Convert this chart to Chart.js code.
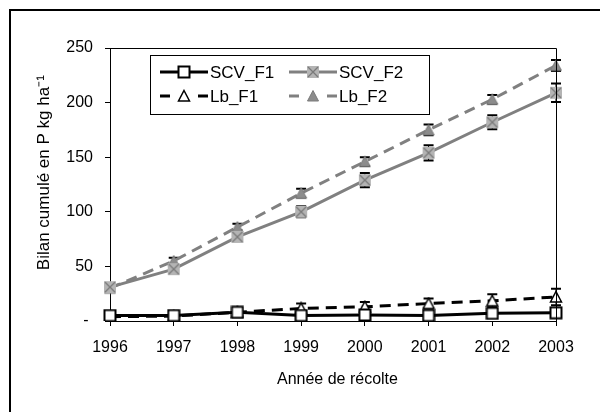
<!DOCTYPE html>
<html>
<head>
<meta charset="utf-8">
<style>
  html, body { margin: 0; padding: 0; background: #fff; overflow: hidden; }
  #wrap { position: relative; width: 600px; height: 412px; }
  #frame { position: absolute; left: 9px; top: 9px; width: 640px; height: 440px; border-left: 2px solid #000; border-top: 2px solid #000; }
  #chart { position: absolute; left: 0; top: 0; }
</style>
</head>
<body>
<div id="wrap">
  <div id="frame"></div>
  <canvas id="chart" width="600" height="412"></canvas>
</div>

<script src="https://cdn.jsdelivr.net/npm/chart.js"></script>

<script>
    const years = ['1996', '1997', '1998', '1999', '2000', '2001', '2002', '2003'];

    const scvF1 = [5, 5, 8, 5, 5.5, 5, 7, 7.5];
    const scvF2 = [31, 47.5, 77, 100, 129, 154, 182, 209];
    const lbF1 = [4, 4.5, 8, 11.5, 13, 16, 18.5, 22];
    const lbF2 = [30, 55, 86, 117, 146, 175, 203, 234];

    const scvF1Err = [1, 1, 1, 1, 1, 1, 1, 1];
    const scvF2Err = [2, 3, 3, 5, 6.5, 7, 6.5, 8.5];
    const lbF1Err = [1, 1, 2, 4.5, 4.5, 4.5, 6, 7.5];
    const lbF2Err = [2, 3, 3, 4, 4, 5, 4, 5];

    const yTicks = [0, 50, 100, 150, 200, 250];

    const FONT = 'Liberation Sans, Arial, sans-serif';

    // marker images
    function makeMarker(kind) {
        const c = document.createElement('canvas');
        c.width = 14;
        c.height = 14;
        const g = c.getContext('2d');
        if (kind === 'sqWhite') {
            g.fillStyle = '#fff';
            g.strokeStyle = '#000';
            g.lineWidth = 2;
            g.fillRect(1.5, 1.5, 11, 11);
            g.strokeRect(1.5, 1.5, 11, 11);
        } else if (kind === 'sqGrayX') {
            g.fillStyle = '#b4b4b4';
            g.fillRect(1, 1, 12, 12);
            g.strokeStyle = '#7a7a7a';
            g.lineWidth = 1.3;
            g.beginPath();
            g.moveTo(2, 2); g.lineTo(12, 12);
            g.moveTo(12, 2); g.lineTo(2, 12);
            g.stroke();
        } else if (kind === 'triWhite') {
            g.fillStyle = '#fff';
            g.strokeStyle = '#000';
            g.lineWidth = 1.5;
            g.beginPath();
            g.moveTo(7, 1.5); g.lineTo(12.5, 12); g.lineTo(1.5, 12); g.closePath();
            g.fill(); g.stroke();
        } else {
            g.fillStyle = '#8c8c8c';
            g.strokeStyle = '#7a7a7a';
            g.lineWidth = 1;
            g.beginPath();
            g.moveTo(7, 1.5); g.lineTo(12.5, 12); g.lineTo(1.5, 12); g.closePath();
            g.fill(); g.stroke();
        }
        return c;
    }

    const series = [
        { label: 'SCV_F1', data: scvF1, err: scvF1Err, color: '#000', dash: [], marker: makeMarker('sqWhite') },
        { label: 'Lb_F1', data: lbF1, err: lbF1Err, color: '#000', dash: [11, 7], marker: makeMarker('triWhite') },
        { label: 'SCV_F2', data: scvF2, err: scvF2Err, color: '#808080', dash: [], marker: makeMarker('sqGrayX') },
        { label: 'Lb_F2', data: lbF2, err: lbF2Err, color: '#808080', dash: [11, 7], marker: makeMarker('triGray') }
    ];

    // error bars under the lines
    const errorBars = {
        id: 'errorBars',
        beforeDatasetsDraw(chart) {
            const { ctx, scales: { x, y } } = chart;
            ctx.save();
            ctx.strokeStyle = '#000';
            chart.data.datasets.forEach(ds => {
                ds.data.forEach((v, i) => {
                    const e = ds.err[i];
                    const px = x.getPixelForValue(i);
                    const top = y.getPixelForValue(v + e);
                    const bot = y.getPixelForValue(Math.max(v - e, 0));
                    ctx.lineWidth = 1;
                    ctx.beginPath();
                    ctx.moveTo(px, top);
                    ctx.lineTo(px, bot);
                    ctx.stroke();
                    ctx.lineWidth = 2;
                    ctx.beginPath();
                    ctx.moveTo(px - 5, top);
                    ctx.lineTo(px + 5, top);
                    ctx.moveTo(px - 5, bot);
                    ctx.lineTo(px + 5, bot);
                    ctx.stroke();
                });
            });
            ctx.restore();
        }
    };

    // plot box + legend box
    const boxAndLegend = {
        id: 'boxAndLegend',
        afterDraw(chart) {
            const { ctx, chartArea: a } = chart;
            ctx.save();
            ctx.strokeStyle = '#000';
            ctx.lineWidth = 1;
            ctx.beginPath();
            ctx.moveTo(a.left, Math.round(a.top) + 0.5);
            ctx.lineTo(Math.round(a.right) + 0.5, Math.round(a.top) + 0.5);
            ctx.lineTo(Math.round(a.right) + 0.5, a.bottom);
            ctx.stroke();

            ctx.fillStyle = '#fff';
            ctx.fillRect(150, 55, 279, 59);
            ctx.strokeRect(150.5, 55.5, 279, 59);

            const slots = [
                { x: 160, y: 72 }, { x: 160, y: 96 },
                { x: 289, y: 72 }, { x: 289, y: 96 }
            ];
            chart.data.datasets.forEach((ds, i) => {
                const s = slots[i];
                ctx.strokeStyle = ds.borderColor;
                ctx.lineWidth = ds.borderWidth;
                ctx.setLineDash(ds.borderDash.length ? [10, 28] : []);
                ctx.beginPath();
                ctx.moveTo(s.x, s.y);
                ctx.lineTo(s.x + 48, s.y);
                ctx.stroke();
                ctx.setLineDash([]);
                const m = ds.pointStyle;
                ctx.drawImage(m, s.x + 24 - m.width / 2, s.y - m.height / 2);
                ctx.fillStyle = '#000';
                ctx.font = '17px ' + FONT;
                ctx.textBaseline = 'middle';
                ctx.fillText(ds.label, s.x + 50, s.y + 1);
            });
            ctx.restore();
        }
    };

    const ctx = document.getElementById('chart');

    new Chart(ctx, {
        type: 'line',
        data: {
            labels: years,
            datasets: series.map(s => ({
                label: s.label,
                data: s.data,
                err: s.err,
                borderColor: s.color,
                borderWidth: 3,
                borderDash: s.dash,
                pointStyle: s.marker,
                pointRadius: 7,
                tension: 0,
                fill: false
            }))
        },
        options: {
            responsive: false,
            animation: false,
            layout: { padding: { top: 48, right: 44, left: 0, bottom: 0 } },
            plugins: { legend: { display: false }, tooltip: { enabled: false } },
            scales: {
                x: {
                    offset: false,
                    border: { color: '#000', width: 1 },
                    grid: { drawOnChartArea: false, tickLength: 5, color: '#000' },
                    ticks: { color: '#000', font: { family: FONT, size: 16 }, padding: 12, maxRotation: 0, autoSkip: false },
                    title: { display: true, text: '  Année de récolte', color: '#000', font: { family: FONT, size: 16 }, padding: { top: 0, bottom: 23 } },
                    afterFit(scale) { scale.height = 91; }
                },
                y: {
                    min: 0,
                    max: 250,
                    border: { color: '#000', width: 1 },
                    grid: { drawOnChartArea: false, tickLength: 5, color: '#000' },
                    afterBuildTicks(scale) { scale.ticks = yTicks.map(v => ({ value: v })); },
                    ticks: {
                        color: '#000',
                        font: { family: FONT, size: 16 },
                        padding: 12,
                        callback: (value) => value === 0 ? '- ' : value
                    },
                    title: { display: true, text: '     Bilan cumulé en P kg ha⁻¹', color: '#000', font: { family: FONT, size: 17 }, padding: { top: 34, bottom: 0 } },
                    afterFit(scale) { scale.width = 110; }
                }
            }
        },
        plugins: [errorBars, boxAndLegend]
    });
</script>
</body>
</html>
